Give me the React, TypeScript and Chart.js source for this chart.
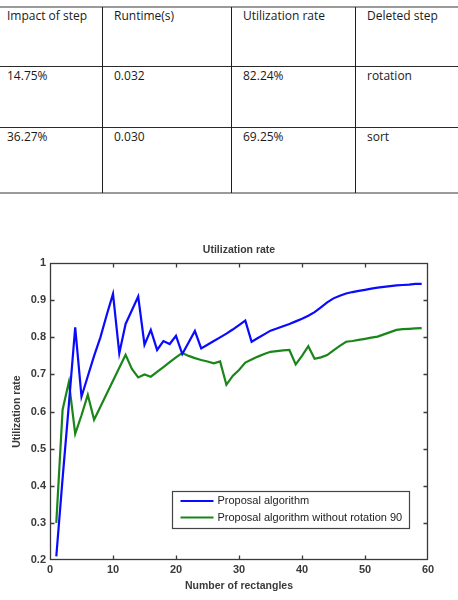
import React, { useEffect, useRef } from "react";
import { Chart, registerables } from "chart.js";

Chart.register(...registerables);

// ---------- table data ----------
const tableHeaders = ["Impact of step", "Runtime(s)", "Utilization rate", "Deleted step"];
const tableRow1 = ["14.75%", "0.032", "82.24%", "rotation"];
const tableRow2 = ["36.27%", "0.030", "69.25%", "sort"];

// ---------- chart data ----------
const chartTitle = "Utilization rate";
const xAxisTitle = "Number of rectangles";
const yAxisTitle = "Utilization rate";
const seriesNames = ["Proposal algorithm", "Proposal algorithm without rotation 90"];

const xValues = [
  1, 2, 3, 4, 5, 6, 7, 8, 9, 10, 11, 12, 13, 14, 15, 16, 17, 18, 19, 20,
  21, 22, 23, 24, 25, 26, 27, 28, 29, 30, 31, 32, 33, 34, 35, 36, 37, 38, 39, 40,
  41, 42, 43, 44, 45, 46, 47, 48, 49, 50, 51, 52, 53, 54, 55, 56, 57, 58, 59,
];

const proposal = [
  0.21, 0.42, 0.62, 0.827, 0.64, 0.695, 0.75, 0.8, 0.86, 0.917,
  0.757, 0.836, 0.873, 0.91, 0.78, 0.82, 0.766, 0.79, 0.782, 0.804,
  0.755, 0.786, 0.817, 0.77, 0.78, 0.79, 0.8, 0.81, 0.821, 0.833,
  0.845, 0.788, 0.798, 0.808, 0.818, 0.824, 0.83, 0.836, 0.843, 0.85,
  0.858, 0.868, 0.881, 0.894, 0.905, 0.912, 0.918, 0.922, 0.925, 0.928,
  0.931, 0.934, 0.936, 0.938, 0.94, 0.941, 0.942, 0.944, 0.944,
];

const noRotation = [
  0.3, 0.605, 0.68, 0.54, 0.59, 0.645, 0.578, 0.613, 0.648, 0.683,
  0.718, 0.753, 0.715, 0.692, 0.7, 0.694, 0.707, 0.72, 0.733, 0.746,
  0.758, 0.75, 0.744, 0.739, 0.735, 0.73, 0.735, 0.672, 0.696, 0.712,
  0.732, 0.74, 0.748, 0.755, 0.761, 0.763, 0.765, 0.766, 0.727, 0.75,
  0.776, 0.742, 0.746, 0.752, 0.765, 0.777, 0.788, 0.79, 0.793, 0.796,
  0.799, 0.802, 0.808, 0.814, 0.82, 0.822, 0.823, 0.824, 0.825,
];

const xTicks = [0, 10, 20, 30, 40, 50, 60];
const yTicks = [0.2, 0.3, 0.4, 0.5, 0.6, 0.7, 0.8, 0.9, 1];

const seriesColors = ["#0a0aff", "#1a861a"];

const FONT = "'Liberation Sans', Arial, sans-serif";
const AXIS_COLOR = "#3a3a3a";
const TEXT_COLOR = "#3a3a3a";

const framePlugin = {
  id: "matlabFrame",
  afterDatasetsDraw(chart: any) {
    const { ctx, chartArea: ca, scales } = chart;
    const L = Math.round(ca.left) + 0.5;
    const R = Math.round(ca.right) - 0.5;
    const T = Math.round(ca.top) + 0.5;
    const B = Math.round(ca.bottom) - 0.5;
    ctx.save();
    ctx.strokeStyle = AXIS_COLOR;
    ctx.lineWidth = 1.3;
    ctx.strokeRect(L, T, R - L, B - T);
    const tl = 4;
    ctx.beginPath();
    xTicks.forEach((v) => {
      const px = Math.round(scales.x.getPixelForValue(v)) + 0.5;
      if (px <= L + 1 || px >= R - 1) return;
      ctx.moveTo(px, B);
      ctx.lineTo(px, B - tl);
      ctx.moveTo(px, T);
      ctx.lineTo(px, T + tl);
    });
    yTicks.forEach((v) => {
      const py = Math.round(scales.y.getPixelForValue(v)) + 0.5;
      if (py <= T + 1 || py >= B - 1) return;
      ctx.moveTo(L, py);
      ctx.lineTo(L + tl, py);
      ctx.moveTo(R, py);
      ctx.lineTo(R - tl, py);
    });
    ctx.stroke();

    // legend box inside the axes (bottom right)
    ctx.font = `11px ${FONT}`;
    const datasets = chart.data.datasets;
    const textW = Math.max(...datasets.map((d: any) => ctx.measureText(d.label).width));
    const padL = 8;
    const lineLen = 33;
    const gap = 4;
    const padR = 7;
    const boxW = Math.round(padL + lineLen + gap + textW + padR);
    const boxH = 37;
    const boxR = Math.round(ca.right) - 19;
    const boxB = Math.round(ca.bottom) - 32;
    const bx = boxR - boxW + 0.5;
    const by = boxB - boxH + 0.5;
    ctx.fillStyle = "#ffffff";
    ctx.fillRect(bx, by, boxW, boxH);
    ctx.strokeStyle = "#444444";
    ctx.lineWidth = 1.2;
    ctx.strokeRect(bx, by, boxW, boxH);
    datasets.forEach((d: any, i: number) => {
      const ry = by + 9.5 + i * 16.5;
      ctx.strokeStyle = d.borderColor;
      ctx.lineWidth = 2.2;
      ctx.beginPath();
      ctx.moveTo(bx + padL, ry);
      ctx.lineTo(bx + padL + lineLen, ry);
      ctx.stroke();
      ctx.fillStyle = "#222222";
      ctx.textBaseline = "middle";
      ctx.textAlign = "left";
      ctx.fillText(d.label, bx + padL + lineLen + gap, ry);
    });
    ctx.restore();
  },
};

function UtilizationChart() {
  const ref = useRef<HTMLCanvasElement | null>(null);
  useEffect(() => {
    if (!ref.current) return;
    const chart = new Chart(ref.current, {
      type: "line",
      data: {
        datasets: [
          {
            label: seriesNames[0],
            data: xValues.map((x, i) => ({ x, y: proposal[i] })),
            borderColor: seriesColors[0],
            backgroundColor: seriesColors[0],
            borderWidth: 2.2,
            pointRadius: 0,
            tension: 0,
          },
          {
            label: seriesNames[1],
            data: xValues.map((x, i) => ({ x, y: noRotation[i] })),
            borderColor: seriesColors[1],
            backgroundColor: seriesColors[1],
            borderWidth: 2.2,
            pointRadius: 0,
            tension: 0,
          },
        ],
      },
      options: {
        responsive: false,
        animation: false,
        devicePixelRatio: 1,
        layout: { padding: { left: 0, right: 30, top: 0, bottom: 0 } },
        plugins: {
          legend: { display: false },
          tooltip: { enabled: false },
          title: {
            display: true,
            text: chartTitle,
            fullSize: false,
            color: TEXT_COLOR,
            font: { family: FONT, size: 10.5, weight: "bold" },
            padding: { top: 9, bottom: 6.5 },
          },
        },
        scales: {
          x: {
            type: "linear",
            min: 0,
            max: 60,
            afterBuildTicks: (s: any) => {
              s.ticks = xTicks.map((v) => ({ value: v }));
            },
            afterFit: (s: any) => {
              s.height = 40;
            },
            ticks: {
              padding: 3,
              color: TEXT_COLOR,
              font: { family: FONT, size: 11, weight: "bold" },
              maxRotation: 0,
              autoSkip: false,
            },
            grid: { display: false, drawTicks: false },
            border: { display: false },
            title: {
              display: true,
              text: xAxisTitle,
              color: TEXT_COLOR,
              font: { family: FONT, size: 10.5, weight: "bold" },
              padding: { top: 0, bottom: 8 },
            },
          },
          y: {
            type: "linear",
            min: 0.2,
            max: 1,
            afterBuildTicks: (s: any) => {
              s.ticks = yTicks.map((v) => ({ value: v }));
            },
            afterFit: (s: any) => {
              s.width = 50;
            },
            ticks: {
              padding: 4,
              color: TEXT_COLOR,
              font: { family: FONT, size: 11, weight: "bold" },
              autoSkip: false,
              callback: (v: any) => String(Number(Number(v).toFixed(1))),
            },
            grid: { display: false, drawTicks: false },
            border: { display: false },
            title: {
              display: true,
              text: yAxisTitle,
              color: TEXT_COLOR,
              font: { family: FONT, size: 10.5, weight: "bold" },
              padding: { top: 11, bottom: 0 },
            },
          },
        },
      },
      plugins: [framePlugin],
    } as any);
    return () => chart.destroy();
  }, []);
  return (
    <canvas
      ref={ref}
      width={458}
      height={365}
      style={{ position: "absolute", left: 0, top: 235, width: 458, height: 365 }}
    />
  );
}

const colLines = [102, 231, 355];
const colTextX = [7, 114, 243, 367];
const rowTextTop = [8, 68, 129];

export default function App() {
  const rows = [tableHeaders, tableRow1, tableRow2];
  return (
    <div
      style={{
        position: "absolute",
        left: 0,
        top: 0,
        width: 458,
        height: 600,
        overflow: "hidden",
        background: "#ffffff",
      }}
    >
      {/* table borders */}
      <div style={{ position: "absolute", left: 0, top: 6, width: 458, height: 2, background: "#9a9a9a" }} />
      <div style={{ position: "absolute", left: 0, top: 66, width: 458, height: 1, background: "#2a2a2a" }} />
      <div style={{ position: "absolute", left: 0, top: 127, width: 458, height: 1, background: "#2a2a2a" }} />
      <div style={{ position: "absolute", left: 0, top: 192, width: 458, height: 2, background: "#9a9a9a" }} />
      {colLines.map((x) => (
        <div key={x} style={{ position: "absolute", left: x, top: 7, width: 1, height: 186, background: "#1e1e1e" }} />
      ))}
      {rows.map((row, r) =>
        row.map((cell, c) => (
          <div
            key={`${r}-${c}`}
            style={{
              position: "absolute",
              left: colTextX[c],
              top: rowTextTop[r],
              fontFamily: "'Open Sans', sans-serif",
              fontSize: 12,
              lineHeight: "16px",
              color: "#1a1a1a",
              whiteSpace: "nowrap",
            }}
          >
            {cell}
          </div>
        ))
      )}
      <UtilizationChart />
    </div>
  );
}
